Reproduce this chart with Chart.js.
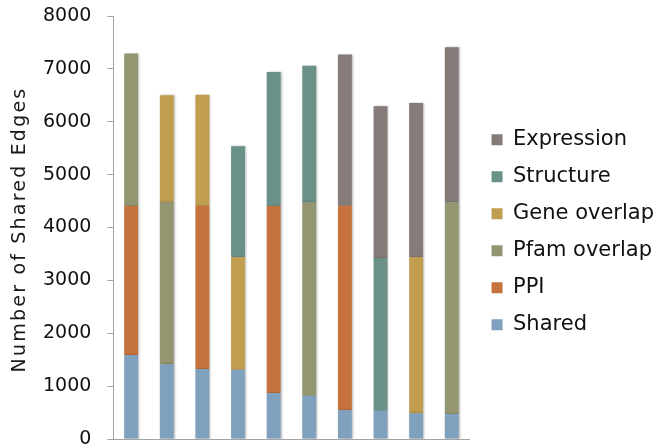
<!DOCTYPE html>
<html>
<head>
<meta charset="utf-8">
<title>Number of Shared Edges</title>
<script src="https://cdn.jsdelivr.net/npm/chart.js@4/dist/chart.umd.min.js"></script>
<style>
  html, body { margin: 0; padding: 0; background: #fff; }
  #chart { display: block; }
</style>
</head>
<body>
<canvas id="chart" width="654" height="448"></canvas>
<script>
// one bar per network pair; the pairs have no printed names
var categories = ['1', '2', '3', '4', '5', '6', '7', '8', '9', '10'];

// edge counts per evidence type, stacked bottom to top
var shared     = [1590, 1410, 1325, 1310, 870, 820, 550, 535, 485, 475];
var ppi        = [2815, 0, 3080, 0, 3535, 0, 3860, 0, 0, 0];
var pfamOver   = [2885, 3070, 0, 0, 0, 3660, 0, 0, 0, 4005];
var geneOver   = [0, 2020, 2105, 2125, 0, 0, 0, 0, 2955, 0];
var structure  = [0, 0, 0, 2100, 2535, 2580, 0, 2890, 0, 0];
var expression = [0, 0, 0, 0, 0, 0, 2860, 2870, 2915, 2930];

var yTicks = { min: 0, max: 8000, step: 1000 };
var yTitle = 'Number of Shared Edges';

var series = [
  { label: 'Shared', data: shared, color: '#80a1bd' },
  { label: 'PPI', data: ppi, color: '#c5723c' },
  { label: 'Pfam overlap', data: pfamOver, color: '#939670' },
  { label: 'Gene overlap', data: geneOver, color: '#c19d50' },
  { label: 'Structure', data: structure, color: '#6a9188' },
  { label: 'Expression', data: expression, color: '#857b79' }
];

// soft drop shadow under the bars
var barShadow = {
  id: 'barShadow',
  beforeDatasetsDraw: function (chart) {
    var ctx = chart.ctx;
    ctx.save();
    ctx.shadowColor = 'rgba(0,0,0,0.28)';
    ctx.shadowBlur = 2;
    ctx.shadowOffsetX = 1;
    ctx.shadowOffsetY = 0;
  },
  afterDatasetsDraw: function (chart) {
    chart.ctx.restore();
  }
};

// rotated y title, drawn by hand so the letters can be spaced out
var yTitlePlugin = {
  id: 'yTitle',
  afterDraw: function (chart) {
    var ctx = chart.ctx;
    var area = chart.chartArea;
    ctx.save();
    ctx.translate(20, (area.top + area.bottom) / 2 + 2);
    ctx.rotate(-Math.PI / 2);
    ctx.font = '19px "DejaVu Sans"';
    if ('letterSpacing' in ctx) ctx.letterSpacing = '2.2px';
    ctx.fillStyle = '#1a1a1a';
    ctx.textAlign = 'center';
    ctx.textBaseline = 'middle';
    ctx.fillText(yTitle, 0, 0);
    ctx.restore();
  }
};

var chart = new Chart(document.getElementById('chart'), {
  type: 'bar',
  data: {
    labels: categories,
    datasets: series.map(function (s) {
      return {
        label: s.label,
        data: s.data,
        yAxisID: 'y',
        backgroundColor: s.color,
        borderWidth: 0,
        categoryPercentage: 1,
        barPercentage: 0.39
      };
    })
  },
  options: {
    responsive: false,
    animation: false,
    layout: { padding: { left: 27, top: 16, bottom: 9, right: -10 } },
    plugins: {
      tooltip: { enabled: false },
      legend: {
        position: 'right',
        reverse: true,
        maxWidth: 200,
        // empty title only nudges the list down a little
        title: { display: true, text: '', padding: 0, font: { size: 8 } },
        labels: {
          boxWidth: 11,
          boxHeight: 11,
          padding: 16,
          color: '#111',
          font: { family: 'DejaVu Sans', size: 21 }
        }
      }
    },
    scales: {
      x: {
        stacked: true,
        grid: { display: false, drawTicks: false },
        ticks: { display: false },
        border: { display: true, color: '#a4a4a4', width: 1 }
      },
      y: {
        stacked: true,
        min: yTicks.min,
        max: yTicks.max,
        grid: { drawOnChartArea: false, drawTicks: true, tickLength: 6, color: '#a4a4a4' },
        border: { display: true, color: '#a4a4a4', width: 1 },
        ticks: {
          stepSize: yTicks.step,
          padding: 16,
          color: '#111',
          font: { family: 'DejaVu Sans', size: 19 },
          callback: function (v) { return String(v); }
        },
        // let the end labels hang past the plot instead of shrinking it
        afterFit: function (scale) {
          scale.paddingTop = 0;
          scale.paddingBottom = 0;
        }
      },
      // blank strip between the plot and the legend
      gap: {
        type: 'linear',
        position: 'right',
        grid: { display: false, drawTicks: false },
        border: { display: false },
        ticks: { display: false },
        afterFit: function (scale) {
          scale.width = 6;
        }
      }
    }
  },
  plugins: [barShadow, yTitlePlugin]
});
</script>
</body>
</html>
